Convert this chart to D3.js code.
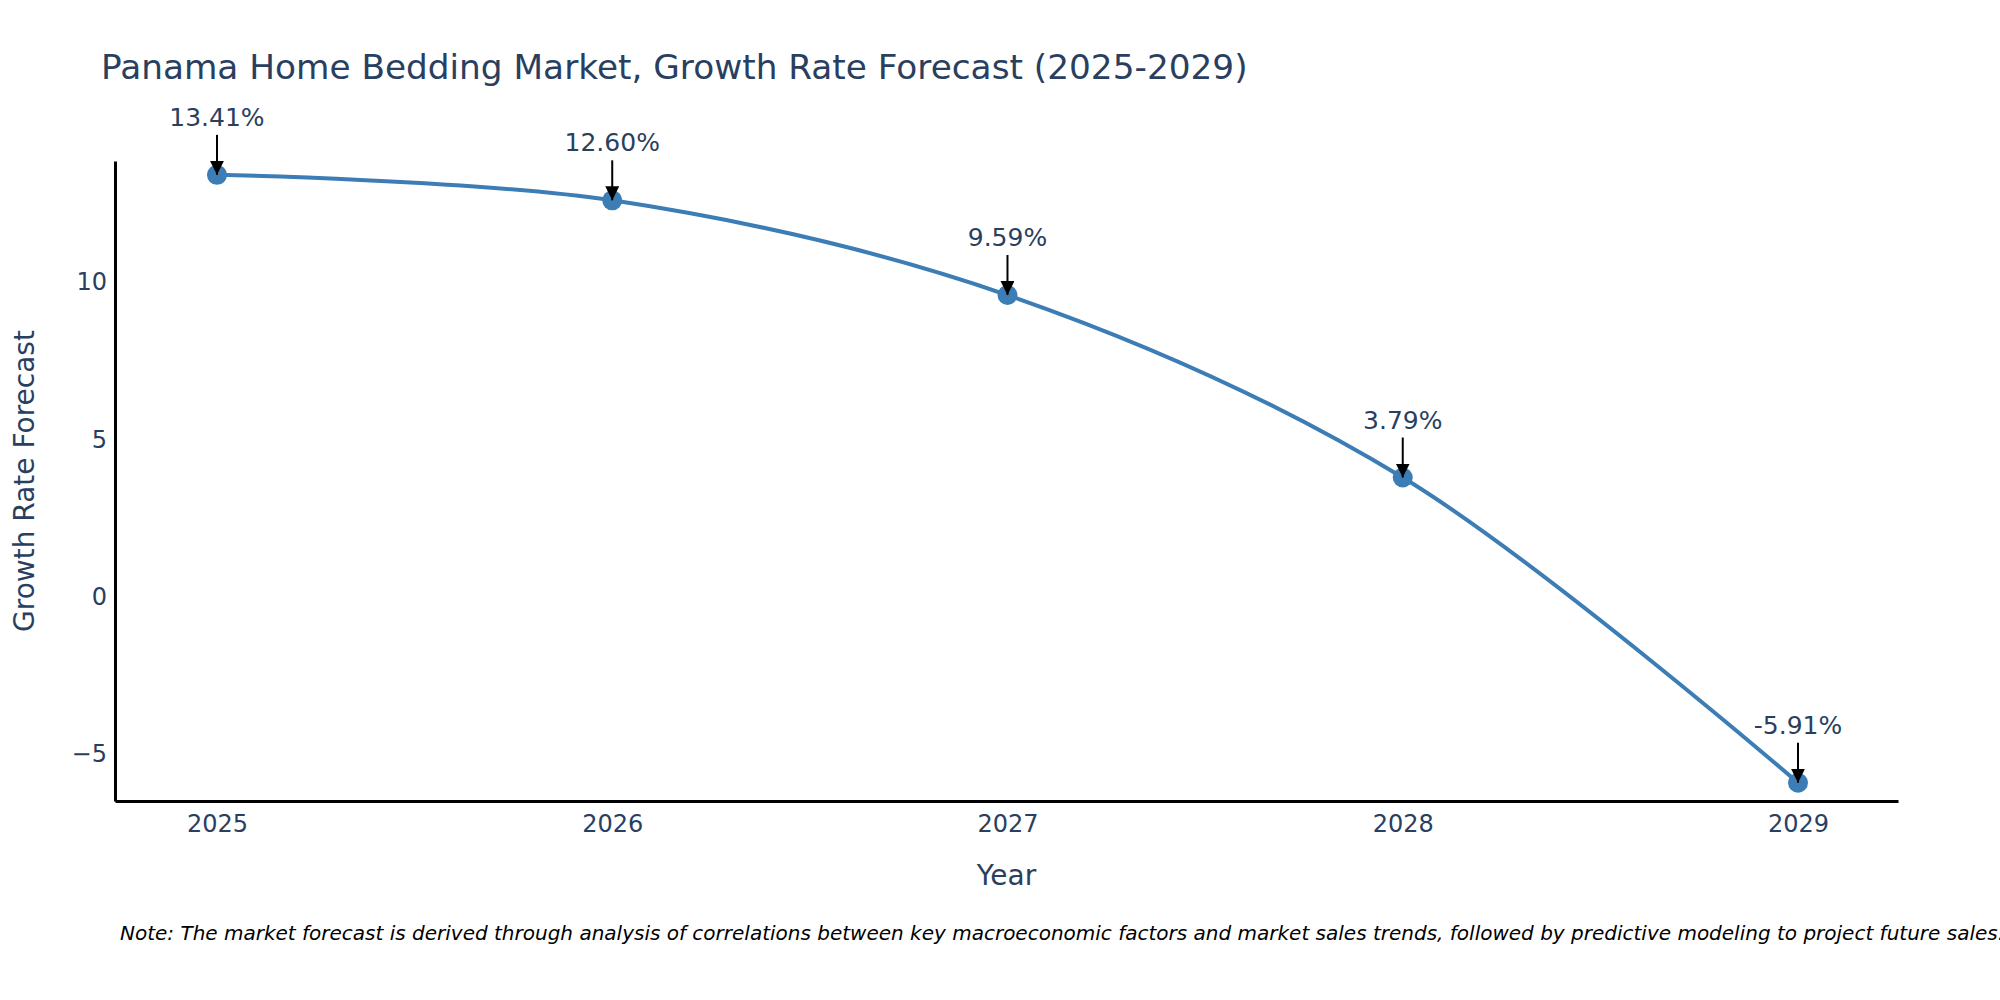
<!DOCTYPE html>
<html>
<head>
<meta charset="utf-8">
<script src="https://cdn.jsdelivr.net/npm/d3@7"></script>
<style>
  body { margin: 0; background: #fff; }
  text { font-family: "DejaVu Sans", Verdana, sans-serif; }
</style>
</head>
<body>
<svg id="chart" width="2000" height="1000"></svg>
<script>
// data
var years = [2025, 2026, 2027, 2028, 2029];
var growth = [13.41, 12.60, 9.59, 3.79, -5.91];
var yTicks = [-5, 0, 5, 10];

var width = 2000;
var height = 1000;
var margin = {top: 161, right: 102, bottom: 199, left: 115};

var svg = d3.select("#chart");

var x = d3.scaleLinear()
  .domain([2024.742, 2029.253])
  .range([margin.left, width - margin.right]);

var y = d3.scaleLinear()
  .domain([-6.49, 13.85])
  .range([height - margin.bottom, margin.top]);

// arrowhead for the labels
svg.append("defs").append("marker")
  .attr("id", "arrow")
  .attr("viewBox", "0 0 10 10")
  .attr("refX", 10)
  .attr("refY", 5)
  .attr("markerWidth", 7)
  .attr("markerHeight", 7)
  .attr("markerUnits", "strokeWidth")
  .attr("orient", "auto")
  .append("path")
  .attr("d", "M0,0 L10,5 L0,10 Z")
  .attr("fill", "#000");

// title
svg.append("text")
  .attr("x", 101)
  .attr("y", 79)
  .attr("font-size", 34.3)
  .attr("fill", "#2a3f5f")
  .text("Panama Home Bedding Market, Growth Rate Forecast (2025-2029)");

// x axis
var xAxis = svg.append("g")
  .attr("transform", "translate(0," + (height - margin.bottom) + ")")
  .call(d3.axisBottom(x).tickValues(years).tickFormat(d3.format("d")).tickSize(0).tickPadding(14));
xAxis.select(".domain").attr("stroke", "#000").attr("stroke-width", 3);
xAxis.selectAll("text").attr("font-size", 24).attr("fill", "#2a3f5f")
  .style("font-family", "DejaVu Sans, sans-serif");

// y axis
var yAxis = svg.append("g")
  .attr("transform", "translate(" + margin.left + ",0)")
  .call(d3.axisLeft(y).tickValues(yTicks).tickSize(0).tickPadding(8));
yAxis.select(".domain").attr("stroke", "#000").attr("stroke-width", 3);
yAxis.selectAll("text").attr("font-size", 24).attr("fill", "#2a3f5f")
  .style("font-family", "DejaVu Sans, sans-serif");

// axis titles
svg.append("text")
  .attr("x", (margin.left + width - margin.right) / 2)
  .attr("y", 885)
  .attr("text-anchor", "middle")
  .attr("font-size", 28)
  .attr("fill", "#2a3f5f")
  .text("Year");

svg.append("text")
  .attr("transform", "translate(34," + ((margin.top + height - margin.bottom) / 2) + ") rotate(-90)")
  .attr("text-anchor", "middle")
  .attr("font-size", 28)
  .attr("fill", "#2a3f5f")
  .text("Growth Rate Forecast");

// the line
var line = d3.line()
  .x(function(d, i){ return x(years[i]); })
  .y(function(d){ return y(d); })
  .curve(d3.curveCatmullRom.alpha(0.5));

svg.append("path")
  .datum(growth)
  .attr("d", line)
  .attr("fill", "none")
  .attr("stroke", "#3b7db4")
  .attr("stroke-width", 4);

svg.selectAll("circle.mark")
  .data(growth)
  .enter()
  .append("circle")
  .attr("class", "mark")
  .attr("cx", function(d, i){ return x(years[i]); })
  .attr("cy", function(d){ return y(d); })
  .attr("r", 10)
  .attr("fill", "#3b7db4");

// labels with arrows
var labels = svg.selectAll("g.label")
  .data(growth)
  .enter()
  .append("g")
  .attr("class", "label");

labels.append("line")
  .attr("x1", function(d, i){ return x(years[i]); })
  .attr("x2", function(d, i){ return x(years[i]); })
  .attr("y1", function(d){ return y(d) - 40; })
  .attr("y2", function(d){ return y(d); })
  .attr("stroke", "#000")
  .attr("stroke-width", 2)
  .attr("marker-end", "url(#arrow)");

labels.append("text")
  .attr("x", function(d, i){ return x(years[i]); })
  .attr("y", function(d){ return y(d) - 49; })
  .attr("text-anchor", "middle")
  .attr("font-size", 25)
  .attr("fill", "#2a3f5f")
  .text(function(d){ return d.toFixed(2) + "%"; });

// note
svg.append("text")
  .attr("x", 120)
  .attr("y", 940)
  .attr("font-size", 20)
  .attr("font-style", "italic")
  .attr("fill", "#000")
  .text("Note: The market forecast is derived through analysis of correlations between key macroeconomic factors and market sales trends, followed by predictive modeling to project future sales.");
</script>
</body>
</html>
